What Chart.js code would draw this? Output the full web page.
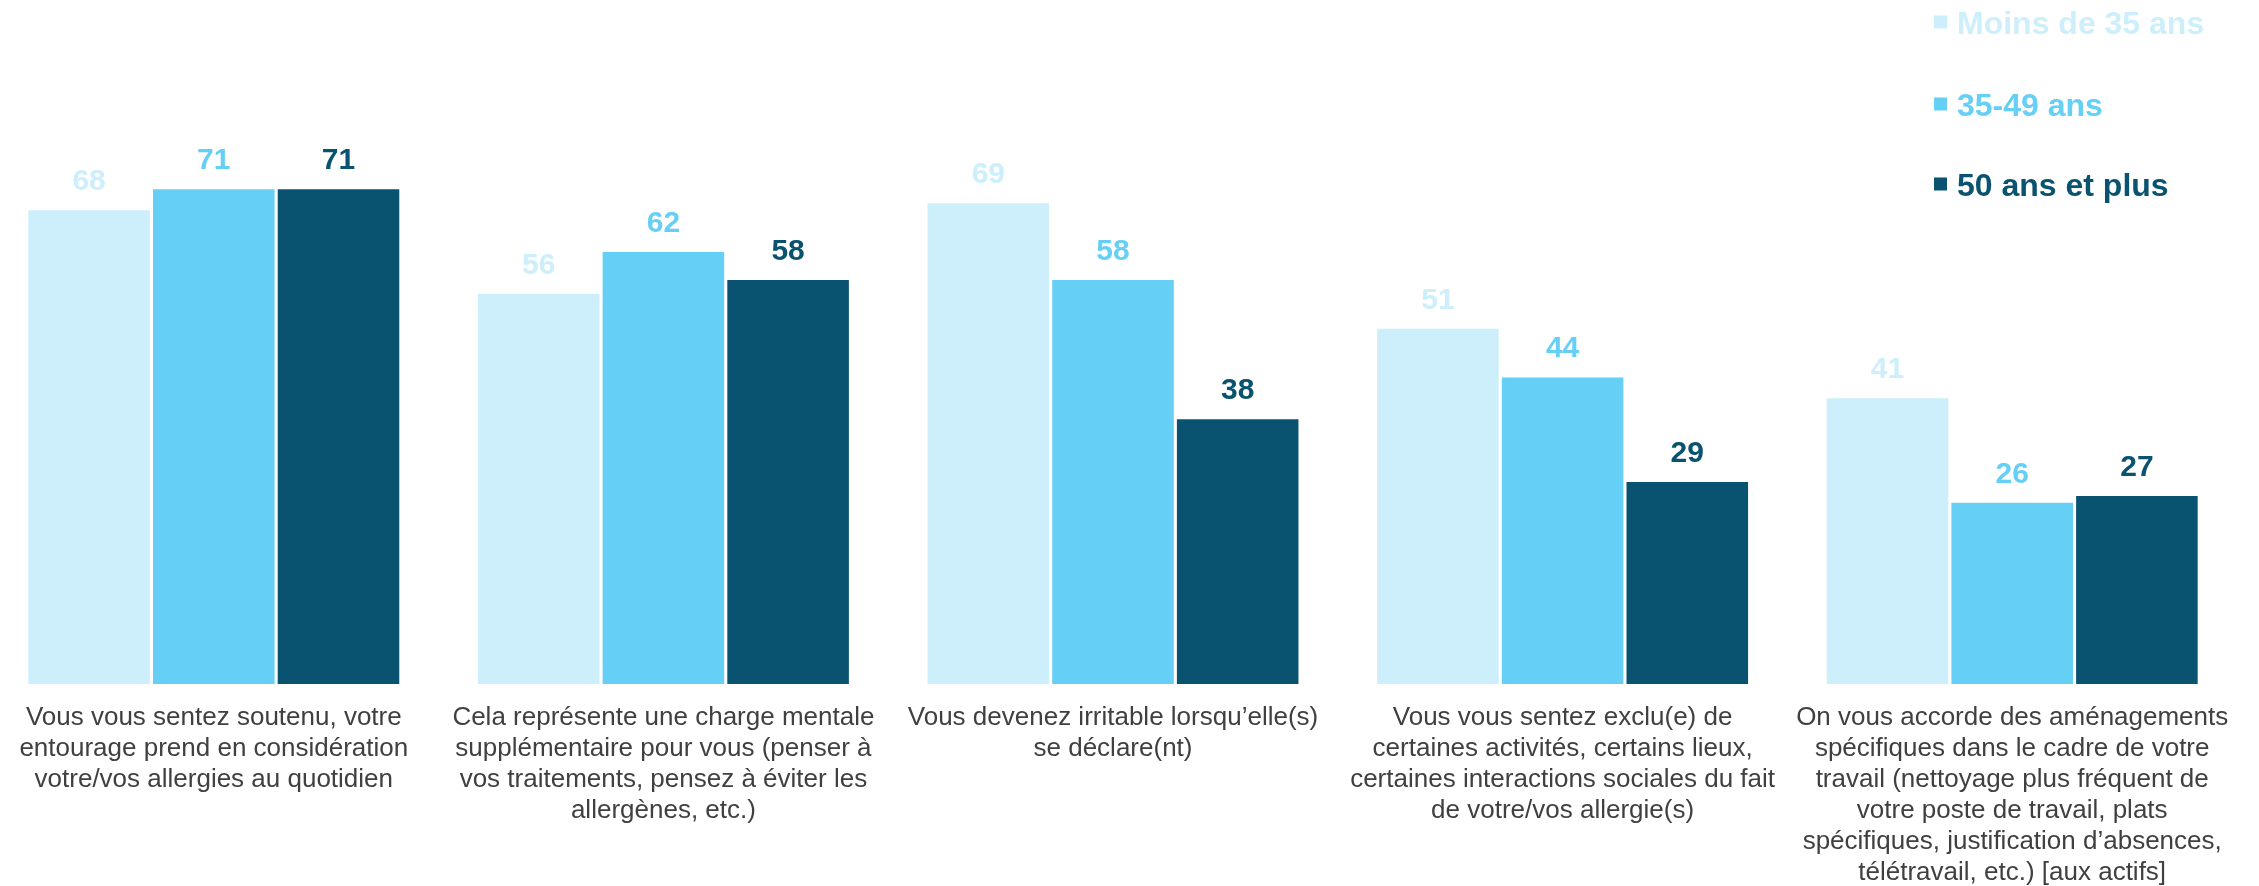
<!DOCTYPE html>
<html>
<head>
<meta charset="utf-8">
<script src="https://cdn.jsdelivr.net/npm/chart.js@4.4.1/dist/chart.umd.min.js"></script>
<style>
    html, body { margin: 0; padding: 0; background: #ffffff; overflow: hidden; }
    #wrap { position: absolute; left: -11px; top: 0; width: 2270px; height: 886px; }
</style>
</head>
<body>
<div id="wrap"><canvas id="allergy_chart"></canvas></div>
<script>
// categories (one multi-line label per group)
const categories = [
    ["Vous vous sentez soutenu, votre", "entourage prend en considération", "votre/vos allergies au quotidien"],
    ["Cela représente une charge mentale", "supplémentaire pour vous (penser à", "vos traitements, pensez à éviter les", "allergènes, etc.)"],
    ["Vous devenez irritable lorsqu’elle(s)", "se déclare(nt)"],
    ["Vous vous sentez exclu(e) de", "certaines activités, certains lieux,", "certaines interactions sociales du fait", "de votre/vos allergie(s)"],
    ["On vous accorde des aménagements", "spécifiques dans le cadre de votre", "travail (nettoyage plus fréquent de", "votre poste de travail, plats", "spécifiques, justification d’absences,", "télétravail, etc.) [aux actifs]"]
];

const seriesNames = ["Moins de 35 ans", "35-49 ans", "50 ans et plus"];
const under35 = [68, 56, 69, 51, 41];
const from35to49 = [71, 62, 58, 44, 26];
const over50 = [71, 58, 38, 29, 27];
const seriesColors = ["#cceffb", "#66cff5", "#0a5370"];

// value labels above each bar
const valueLabels = {
    id: 'valueLabels',
    afterDatasetsDraw(chart) {
        const ctx = chart.ctx;
        ctx.save();
        ctx.font = "bold 30px 'Liberation Sans', Arial, sans-serif";
        ctx.textAlign = 'center';
        ctx.textBaseline = 'alphabetic';
        chart.data.datasets.forEach(function (ds, i) {
            const meta = chart.getDatasetMeta(i);
            ctx.fillStyle = ds.backgroundColor;
            meta.data.forEach(function (bar, j) {
                ctx.fillText(ds.data[j], bar.x, bar.y - 20);
            });
        });
        ctx.restore();
    }
};

// legend stacked at the top right
const sideLegend = {
    id: 'sideLegend',
    afterDraw(chart) {
        const ctx = chart.ctx;
        const left = 1945;
        const rows = [22, 104, 184];
        ctx.save();
        ctx.font = "bold 32px 'Liberation Sans', Arial, sans-serif";
        ctx.textAlign = 'left';
        ctx.textBaseline = 'alphabetic';
        chart.data.datasets.forEach(function (ds, i) {
            ctx.fillStyle = ds.backgroundColor;
            ctx.fillRect(left, rows[i] - 6.5, 13, 13);
            ctx.fillText(ds.label, left + 23, rows[i] + 11.5);
        });
        ctx.restore();
    }
};

const ctx = document.getElementById("allergy_chart").getContext('2d');
const allergyChart = new Chart(ctx, {
    type: 'bar',
    data: {
        labels: categories,
        datasets: [
            { label: seriesNames[0], data: under35, backgroundColor: seriesColors[0] },
            { label: seriesNames[1], data: from35to49, backgroundColor: seriesColors[1] },
            { label: seriesNames[2], data: over50, backgroundColor: seriesColors[2] }
        ]
    },
    options: {
        responsive: true,
        maintainAspectRatio: false,
        animation: false,
        categoryPercentage: 0.832,
        barPercentage: 0.975,
        layout: {
            padding: { top: 57, right: 22, left: 0, bottom: 0 }
        },
        plugins: {
            legend: { display: false },
            tooltip: { enabled: false }
        },
        scales: {
            y: {
                display: false,
                min: 0,
                max: 90
            },
            x: {
                grid: { display: false, drawTicks: false },
                border: { display: false },
                ticks: {
                    autoSkip: false,
                    maxRotation: 0,
                    minRotation: 0,
                    padding: 18,
                    color: '#404040',
                    font: { family: "'Liberation Sans', Arial, sans-serif", size: 26, lineHeight: '31px' }
                },
                afterFit: function (scale) {
                    scale.height = 202;
                }
            }
        }
    },
    plugins: [valueLabels, sideLegend]
});
</script>
</body>
</html>
